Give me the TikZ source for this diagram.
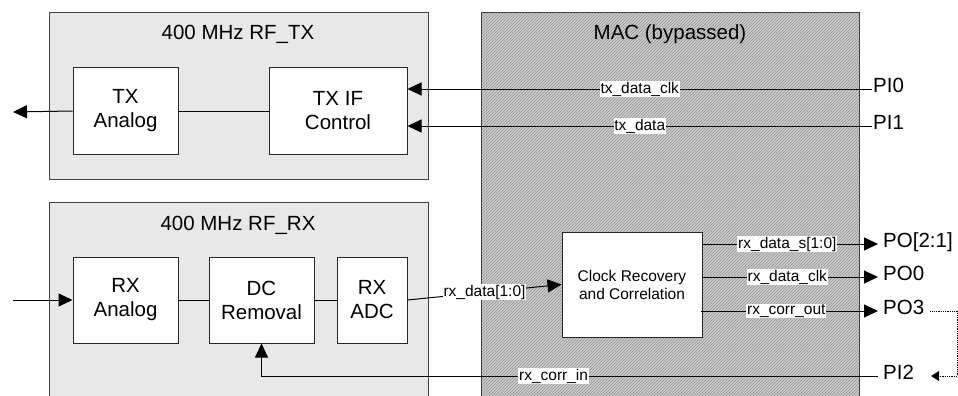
\documentclass[tikz,border=0pt]{standalone}
\usepackage{fontspec}
\setmainfont{Liberation Sans}
\usetikzlibrary{arrows.meta,patterns}

\tikzset{
  >={Triangle[length=14pt,width=13pt]},
  wire/.style={line width=1pt},
  arr/.style={wire, ->},
  blk/.style={draw=black!85, fill=white, line width=1pt, align=center, inner sep=0pt,
    font=\fontsize{20.5}{24}\selectfont},
  ttl/.style={inner sep=0pt, text height=0.716em, text depth=0pt, font=\fontsize{20.5}{24}\selectfont},
  port/.style={anchor=west, inner sep=0pt, text height=0.716em, text depth=0pt, font=\fontsize{20.5}{24}\selectfont},
  sig/.style={fill=white, inner sep=0.8pt, font=\fontsize{15.5}{18}\selectfont},
}

\begin{document}
\begin{tikzpicture}[x=1pt,y=-1pt]
\clip (0,0) rectangle (958,396);
\fill[white] (0,0) rectangle (958,396);

% the three containers
\filldraw[fill=gray!18, draw=black!75, line width=1pt] (49,13) rectangle (428,179);
\filldraw[fill=gray!18, draw=black!75, line width=1pt] (49,202) rectangle (428,410);
\fill[gray!40] (481,13) rectangle (859,410);
\fill[pattern=north east lines, pattern color=gray!85] (481,13) rectangle (859,410);
\draw[black!75, line width=1pt] (481,13) rectangle (859,410);

\node[ttl] (txttl) at (238,35.5) {400 MHz RF\_TX};
\node[ttl] (rxttl) at (238,227) {400 MHz RF\_RX};
\node[ttl] (macttl) at (670,35.5) {MAC (bypassed)};

% blocks
\node[blk, minimum width=105pt, minimum height=86pt] (txa) at (125.5,111) {TX\\Analog};
\node[blk, minimum width=138pt, minimum height=86pt] (txif) at (338,111) {TX IF\\Control};
\node[blk, minimum width=105pt, minimum height=86pt] (rxa) at (125.5,300) {RX\\Analog};
\node[blk, minimum width=105pt, minimum height=86pt] (dcr) at (261.5,300) {DC\\Removal};
\node[blk, minimum width=70pt, minimum height=86pt] (adc) at (372,300) {RX\\ADC};
\node[blk, minimum width=140pt, minimum height=105pt, font=\fontsize{15.5}{18}\selectfont] (clk) at (632,284.5) {Clock Recovery\\and Correlation};

% ports
\node[port] (pi0) at (873,89) {PI0};
\node[port] (pi1) at (873,126) {PI1};
\node[port] (po21) at (883,244) {PO[2:1]};
\node[port] (po0) at (883,277) {PO0};
\node[port] (po3) at (883,311) {PO3};
\node[port] (pi2) at (883,376) {PI2};
\coordinate (antout) at (13,112);
\coordinate (antin) at (13,300);
\coordinate (loopr) at (957,311);

% tx side
\draw[arr] (txa.west) -- (antout);
\draw[wire] (txa) -- (txif);
\draw[arr] ([xshift=-1pt]pi0.west) -- (pi0.west -| txif.east) node[sig, midway] {tx\_data\_clk};
\draw[arr] ([xshift=-1pt]pi1.west) -- (pi1.west -| txif.east) node[sig, midway] {tx\_data};

% rx side
\draw[arr] (antin) -- (rxa.west);
\draw[wire] (rxa) -- (dcr);
\draw[wire] (dcr) -- (adc);
\draw[arr] (adc.east) -- (clk.west) node[sig, midway] {rx\_data[1:0]};
\draw[arr, shorten >=5pt] (po21.west -| clk.east) -- (po21.west) node[sig, pos=0.47] {rx\_data\_s[1:0]};
\draw[arr, shorten >=5pt] (po0.west -| clk.east) -- (po0.west) node[sig, pos=0.47] {rx\_data\_clk};
\draw[arr, shorten >=5pt] ([xshift=-2pt]po3.west -| clk.east) -- (po3.west) node[sig, pos=0.47] {rx\_corr\_out};
\draw[arr, shorten <=5pt] (pi2.west) -| (dcr.south) node[sig, pos=0.265] {rx\_corr\_in};

% loop back
\draw[line width=0.8pt, densely dotted, -{Triangle[length=8pt,width=10pt]}]
  ([xshift=6pt]po3.east) -- (loopr) |- ([xshift=17pt]pi2.east);
\end{tikzpicture}
\end{document}
